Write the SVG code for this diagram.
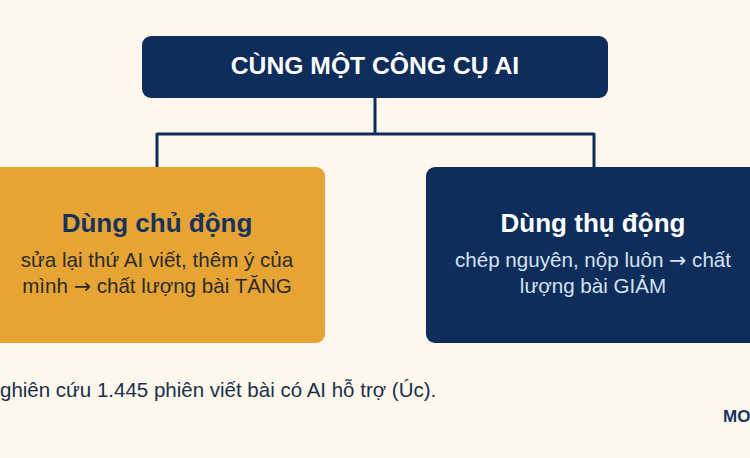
<svg xmlns="http://www.w3.org/2000/svg" width="750" height="458" viewBox="0 0 750 458">
<style>
.t{font-family:"Liberation Sans",Arial,sans-serif;text-anchor:middle}
.title{font-size:24.7px;font-weight:bold;fill:#ffffff}
.head{font-size:26px;font-weight:bold}
.body{font-size:20.6px}
.arr{font-family:"Noto Sans","DejaVu Sans",sans-serif;font-size:20.6px}
.conn{stroke:#0f2d5a;stroke-width:3;fill:none}
</style>
<rect width="750" height="458" fill="#fef8ec"/>
<g id="connectors">
<path class="conn" d="M375 98 V134 M157 134 H594 M157 133 V167 M594 133 V167"/>
</g>
<g id="node-top">
<rect x="142" y="36" width="466" height="62" rx="9" fill="#0f2d5a"/>
<text class="t title" x="375" y="74">CÙNG MỘT CÔNG CỤ AI</text>
</g>
<g id="node-active">
<rect x="-11" y="167" width="336" height="176" rx="9" fill="#e6a434"/>
<text class="t head" x="157" y="232" fill="#16325c">Dùng chủ động</text>
<text class="t body" x="157" y="267" fill="#2b2b2b">sửa lại thứ AI viết, thêm ý của</text>
<text class="t body" x="157" y="293" fill="#2b2b2b">mình <tspan class="arr">→</tspan> chất lượng bài TĂNG</text>
</g>
<g id="node-passive">
<rect x="426" y="167" width="336" height="176" rx="9" fill="#0f2d5a"/>
<text class="t head" x="593" y="232" fill="#ffffff">Dùng thụ động</text>
<text class="t body" x="593" y="267" fill="#d4e2f4">chép nguyên, nộp luôn <tspan class="arr">→</tspan> chất</text>
<text class="t body" x="593" y="293" fill="#d4e2f4">lượng bài GIẢM</text>
</g>
<text x="0" y="397" font-family="Liberation Sans,Arial,sans-serif" font-size="20.5" fill="#1a2f50">ghiên cứu 1.445 phiên viết bài có AI hỗ trợ (Úc).</text>
<text x="723" y="422" font-family="Liberation Sans,Arial,sans-serif" font-size="17" font-weight="bold" fill="#16325c">MO</text>
</svg>
